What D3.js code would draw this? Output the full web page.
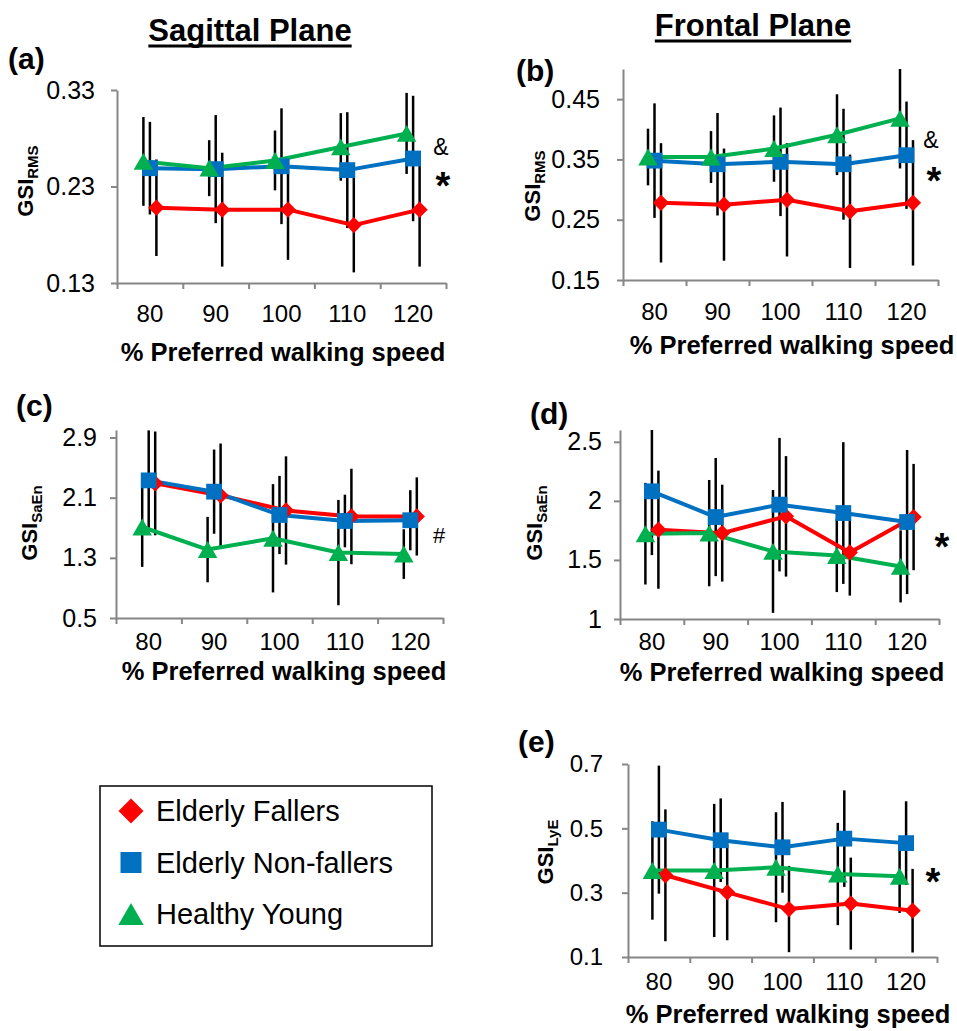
<!DOCTYPE html>
<html>
<head>
<meta charset="utf-8">
<script src="https://cdn.jsdelivr.net/npm/d3@7"></script>
<style>
body { margin: 0; background: #fff; }
text { font-family: "Liberation Sans", Arial, sans-serif; fill: #000; }
</style>
</head>
<body>
<svg id="fig" width="957" height="1031"></svg>
<script>
// x categories and groups
var categories = ["80", "90", "100", "110", "120"];
var groups = ["Elderly Fallers", "Elderly Non-fallers", "Healthy Young"];
var groupColors = ["#ff0000", "#0070c0", "#00b050"];

// (a) sagittal GSI RMS, mean and sd
var sagRmsFallers = [0.208, 0.206, 0.206, 0.190, 0.206];
var sagRmsFallersSd = [0.050, 0.059, 0.052, 0.049, 0.059];
var sagRmsNonFallers = [0.249, 0.248, 0.251, 0.247, 0.259];
var sagRmsNonFallersSd = [0.048, 0.056, 0.060, 0.060, 0.065];
var sagRmsYoung = [0.256, 0.249, 0.257, 0.271, 0.285];
var sagRmsYoungSd = [0.046, 0.029, 0.031, 0.035, 0.042];
var sagRmsTicks = [0.13, 0.23, 0.33];
var sagRmsTickLabels = ["0.13", "0.23", "0.33"];

// (b) frontal GSI RMS
var froRmsFallers = [0.278, 0.275, 0.283, 0.264, 0.278];
var froRmsFallersSd = [0.099, 0.093, 0.094, 0.094, 0.104];
var froRmsNonFallers = [0.348, 0.342, 0.346, 0.342, 0.357];
var froRmsNonFallersSd = [0.095, 0.085, 0.090, 0.092, 0.089];
var froRmsYoung = [0.354, 0.354, 0.368, 0.391, 0.418];
var froRmsYoungSd = [0.047, 0.043, 0.055, 0.067, 0.083];
var froRmsTicks = [0.15, 0.25, 0.35, 0.45];
var froRmsTickLabels = ["0.15", "0.25", "0.35", "0.45"];

// (c) sagittal GSI SaEn
var sagSaEnFallers = [2.29, 2.13, 1.93, 1.85, 1.85];
var sagSaEnFallersSd = [0.69, 0.69, 0.72, 0.635, 0.52];
var sagSaEnNonFallers = [2.33, 2.18, 1.87, 1.79, 1.80];
var sagSaEnNonFallersSd = [0.665, 0.56, 0.52, 0.35, 0.40];
var sagSaEnYoung = [1.71, 1.41, 1.56, 1.37, 1.35];
var sagSaEnYoungSd = [0.53, 0.435, 0.72, 0.70, 0.33];
var sagSaEnTicks = [0.5, 1.3, 2.1, 2.9];
var sagSaEnTickLabels = ["0.5", "1.3", "2.1", "2.9"];

// (d) frontal GSI SaEn
var froSaEnFallers = [1.756, 1.727, 1.869, 1.563, 1.863];
var froSaEnFallersSd = [0.50, 0.41, 0.51, 0.365, 0.45];
var froSaEnNonFallers = [2.081, 1.863, 1.968, 1.897, 1.821];
var froSaEnNonFallersSd = [0.54, 0.50, 0.565, 0.60, 0.61];
var froSaEnYoung = [1.722, 1.727, 1.572, 1.538, 1.445];
var froSaEnYoungSd = [0.43, 0.45, 0.52, 0.31, 0.305];
var froSaEnTicks = [1, 1.5, 2, 2.5];
var froSaEnTickLabels = ["1", "1.5", "2", "2.5"];

// (e) frontal GSI LyE
var froLyeFallers = [0.354, 0.301, 0.249, 0.266, 0.244];
var froLyeFallersSd = [0.205, 0.149, 0.134, 0.143, 0.130];
var froLyeNonFallers = [0.496, 0.463, 0.441, 0.468, 0.454];
var froLyeNonFallersSd = [0.199, 0.130, 0.141, 0.150, 0.130];
var froLyeYoung = [0.369, 0.369, 0.379, 0.358, 0.351];
var froLyeYoungSd = [0.153, 0.207, 0.171, 0.159, 0.114];
var froLyeTicks = [0.1, 0.3, 0.5, 0.7];
var froLyeTickLabels = ["0.1", "0.3", "0.5", "0.7"];

var svg = d3.select("#fig");
var axisGrey = "#868686";

var markers = [
  { type: d3.symbolSquare, size: 132, rot: 45, dy: 0 },
  { type: d3.symbolSquare, size: 250, rot: 0, dy: 0 },
  { type: d3.symbolTriangle, size: 165, rot: 0, dy: 2.8 }
];

function panel(p) {
  var g = svg.append("g");
  var x = d3.scaleBand().domain(categories).range([p.x0, p.x1]);
  // fallers sit right of centre, young left
  var off = d3.scalePoint().domain(groups).range([6.5, -6.5]);
  var y = d3.scaleLinear().domain(p.domain).range([p.y1, p.y0]);
  var px = function(gi, j) { return x(categories[j]) + x.bandwidth() / 2 + off(groups[gi]); };

  // y axis
  var ya = g.append("g").attr("transform", "translate(" + p.x0 + ",0)")
    .call(d3.axisLeft(y).tickValues(p.ticks)
      .tickFormat(function(d, i) { return p.tickLabels[i]; })
      .tickSize(6).tickSizeOuter(0).tickPadding(p.ypad));
  ya.selectAll("path, line").attr("stroke", axisGrey).attr("stroke-width", 2);
  ya.selectAll("text").style("font-size", p.yfont + "px").attr("fill", "#000");

  // x axis: ticks at band boundaries, labels at centres
  var xb = d3.scaleLinear().domain([0, categories.length]).range([p.x0, p.x1]);
  var xa = g.append("g").attr("transform", "translate(0," + p.y1 + ")")
    .call(d3.axisBottom(xb).tickValues(d3.range(categories.length + 1))
      .tickFormat("").tickSize(6).tickSizeOuter(0));
  xa.selectAll("path, line").attr("stroke", axisGrey).attr("stroke-width", 2);
  var xl = g.append("g").attr("transform", "translate(0," + p.y1 + ")")
    .call(d3.axisBottom(x).tickSize(0).tickPadding(p.xpad));
  xl.select(".domain").remove();
  xl.selectAll("text").style("font-size", "24px").attr("fill", "#000");

  g.append("text").attr("x", p.titleX).attr("y", p.y1 + p.titleDy)
    .attr("text-anchor", "middle").style("font-size", "25.5px").style("font-weight", "bold")
    .text("% Preferred walking speed");

  // y title with subscript
  var yt = g.append("text").attr("transform", "translate(" + p.ytx + "," + p.yty + ") rotate(-90)")
    .attr("text-anchor", "middle").style("font-weight", "bold");
  yt.append("tspan").style("font-size", "22px").text("GSI");
  yt.append("tspan").style("font-size", "15px").attr("dy", 5).text(p.sub);

  g.append("text").attr("x", p.lx).attr("y", p.ly)
    .style("font-size", "30px").style("font-weight", "bold").text(p.label);

  var clipId = "clip" + p.label.replace(/[()]/g, "");
  svg.append("clipPath").attr("id", clipId).append("rect")
    .attr("x", p.x0).attr("y", p.y0).attr("width", p.x1 - p.x0).attr("height", p.y1 - p.y0);

  // error bars
  var eb = g.append("g").attr("clip-path", "url(#" + clipId + ")");
  p.series.forEach(function(s, gi) {
    s.mean.forEach(function(v, j) {
      eb.append("line").attr("x1", px(gi, j)).attr("x2", px(gi, j))
        .attr("y1", y(v - s.sd[j])).attr("y2", y(v + s.sd[j]))
        .attr("stroke", "#000").attr("stroke-width", 2.5);
    });
  });

  p.series.forEach(function(s, gi) {
    var line = d3.line().x(function(d, j) { return px(gi, j); }).y(function(d) { return y(d); });
    g.append("path").datum(s.mean).attr("d", line).attr("fill", "none")
      .attr("stroke", groupColors[gi]).attr("stroke-width", 4).attr("stroke-linejoin", "round");
  });
  p.series.forEach(function(s, gi) {
    var m = markers[gi];
    g.selectAll(null).data(s.mean).enter().append("path")
      .attr("d", d3.symbol().type(m.type).size(m.size))
      .attr("transform", function(d, j) {
        return "translate(" + px(gi, j) + "," + (y(d) + m.dy) + ") rotate(" + m.rot + ")";
      })
      .attr("fill", groupColors[gi]);
  });

  p.notes.forEach(function(n) {
    g.append("text").attr("x", n.x).attr("y", n.y).attr("text-anchor", "middle")
      .style("font-size", n.size + "px").style("font-weight", n.bold ? "bold" : "normal").text(n.t);
  });
}

function series(m1, s1, m2, s2, m3, s3) {
  return [{ mean: m1, sd: s1 }, { mean: m2, sd: s2 }, { mean: m3, sd: s3 }];
}

panel({
  label: "(a)", lx: 8, ly: 69, sub: "RMS", ytx: 33, yty: 181,
  x0: 117, x1: 446, y0: 90, y1: 283, domain: [0.13, 0.33],
  ticks: sagRmsTicks, tickLabels: sagRmsTickLabels, ypad: 16, yfont: 25, xpad: 22,
  titleX: 283, titleDy: 78,
  series: series(sagRmsFallers, sagRmsFallersSd, sagRmsNonFallers, sagRmsNonFallersSd, sagRmsYoung, sagRmsYoungSd),
  notes: [{ t: "&", x: 441, y: 155, size: 23 }, { t: "*", x: 443, y: 199, size: 38, bold: true }]
});
panel({
  label: "(b)", lx: 516, ly: 81, sub: "RMS", ytx: 540, yty: 186,
  x0: 623, x1: 938, y0: 69, y1: 280, domain: [0.15, 0.5],
  ticks: froRmsTicks, tickLabels: froRmsTickLabels, ypad: 17, yfont: 25, xpad: 23,
  titleX: 792, titleDy: 74,
  series: series(froRmsFallers, froRmsFallersSd, froRmsNonFallers, froRmsNonFallersSd, froRmsYoung, froRmsYoungSd),
  notes: [{ t: "&", x: 931, y: 148, size: 23 }, { t: "*", x: 934, y: 194, size: 38, bold: true }]
});
panel({
  label: "(c)", lx: 16, ly: 416, sub: "SaEn", ytx: 37, yty: 523,
  x0: 116, x1: 443, y0: 430, y1: 618, domain: [0.5, 3.0],
  ticks: sagSaEnTicks, tickLabels: sagSaEnTickLabels, ypad: 13, yfont: 25, xpad: 15,
  titleX: 284, titleDy: 62,
  series: series(sagSaEnFallers, sagSaEnFallersSd, sagSaEnNonFallers, sagSaEnNonFallersSd, sagSaEnYoung, sagSaEnYoungSd),
  notes: [{ t: "#", x: 439, y: 543, size: 22 }]
});
panel({
  label: "(d)", lx: 530, ly: 424, sub: "SaEn", ytx: 542, yty: 523,
  x0: 620, x1: 939, y0: 430, y1: 619, domain: [1, 2.6],
  ticks: froSaEnTicks, tickLabels: froSaEnTickLabels, ypad: 12, yfont: 25, xpad: 14,
  titleX: 782, titleDy: 62,
  series: series(froSaEnFallers, froSaEnFallersSd, froSaEnNonFallers, froSaEnNonFallersSd, froSaEnYoung, froSaEnYoungSd),
  notes: [{ t: "*", x: 942, y: 560, size: 38, bold: true }]
});
panel({
  label: "(e)", lx: 518, ly: 752, sub: "LyE", ytx: 553, yty: 852,
  x0: 628, x1: 937, y0: 764, y1: 957, domain: [0.1, 0.7],
  ticks: froLyeTicks, tickLabels: froLyeTickLabels, ypad: 19, yfont: 24, xpad: 16,
  titleX: 788, titleDy: 66,
  series: series(froLyeFallers, froLyeFallersSd, froLyeNonFallers, froLyeNonFallersSd, froLyeYoung, froLyeYoungSd),
  notes: [{ t: "*", x: 933, y: 895, size: 38, bold: true }]
});

// section headings
[{ t: "Sagittal Plane", x: 250, y: 41 }, { t: "Frontal Plane", x: 753, y: 36 }].forEach(function(h) {
  var tx = svg.append("text").attr("x", h.x).attr("y", h.y).attr("text-anchor", "middle")
    .style("font-size", "31px").style("font-weight", "bold").text(h.t);
  var w = tx.node().getComputedTextLength();
  svg.append("line").attr("x1", h.x - w / 2).attr("x2", h.x + w / 2)
    .attr("y1", h.y + 5).attr("y2", h.y + 5).attr("stroke", "#000").attr("stroke-width", 3);
});

// legend
var lg = svg.append("g");
lg.append("rect").attr("x", 100).attr("y", 786).attr("width", 332).attr("height", 160)
  .attr("fill", "#fff").attr("stroke", "#000").attr("stroke-width", 1.5);
var legendMarkers = [
  { type: d3.symbolSquare, size: 312, rot: 45, dy: 0 },
  { type: d3.symbolSquare, size: 441, rot: 0, dy: 0 },
  { type: d3.symbolTriangle, size: 280, rot: 0, dy: 3.7 }
];
var ly = d3.scalePoint().domain(groups).range([811, 914]);
groups.forEach(function(name, i) {
  var m = legendMarkers[i];
  lg.append("path").attr("d", d3.symbol().type(m.type).size(m.size))
    .attr("transform", "translate(131," + (ly(name) + m.dy) + ") rotate(" + m.rot + ")")
    .attr("fill", groupColors[i]);
  lg.append("text").attr("x", 156).attr("y", ly(name) + 10)
    .style("font-size", "29px").text(name);
});
</script>
</body>
</html>
